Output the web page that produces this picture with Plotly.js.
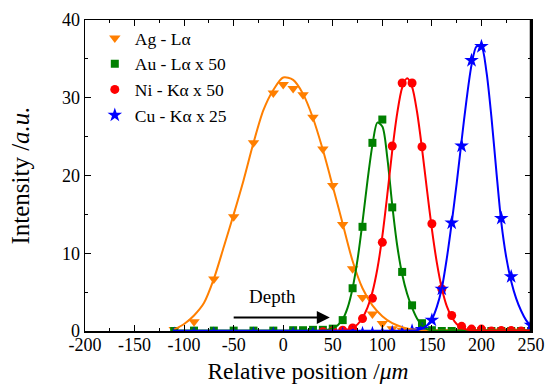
<!DOCTYPE html>
<html>
<head>
<meta charset="utf-8">
<script src="https://cdn.plot.ly/plotly-3.0.1.min.js"></script>
<style>html,body{margin:0;padding:0;background:#fff;}#chart{width:545px;height:389px;}</style>
</head>
<body>
<div id="chart"></div>
<script>
// ---- data ----
const seriesNames = ["Ag - L\u03b1", "Au - L\u03b1 x 50", "Ni - K\u03b1 x 50", "Cu - K\u03b1 x 25"];

// measured points
const agX = [-110,-90,-70,-50,-30,-10,0,10,20,30,40,50,60,70,80,90,100,110,120,130,140,150,160,170,180,190,200,210,220,230,240,250];
const agY = [0.2,1.2,6.7,14.7,24.2,30.6,31.7,31.2,30.4,27.5,23.4,18.7,13.7,8.0,4.3,2.2,0.96,0.3,0.1,0.0,-0.1,-0.1,-0.1,-0.1,-0.1,-0.1,-0.1,-0.1,0.0,0.0,-0.1,-0.1];

const auX = [-110,-90,-70,-50,-30,-10,10,20,30,40,50,60,70,80,90,100,110,120,130,140,150,160,170,180,190,200,210,220,230,240,250];
const auY = [0.0,0.05,0.05,0.05,0.05,0.05,0.1,0.1,0.15,0.15,0.3,1.4,5.5,13.4,24.2,27.2,15.9,7.6,3.3,1.0,0.1,0.0,0.0,0.0,0.0,0.0,0.0,0.0,0.0,0.0,0.0];

const niX = [40,50,60,70,80,90,100,110,120,130,140,150,160,170,180,190,200,210,220,230,240,250];
const niY = [-0.1,0.0,0.1,0.4,1.6,4.2,11.4,23.8,31.9,31.9,23.7,13.8,5.4,2.0,0.6,0.25,0.25,0.0,0.05,0.05,0.0,0.0];

const cuX = [-110,-90,-70,-50,-30,-10,10,30,50,60,70,80,90,100,110,120,130,140,150,160,170,180,190,200,220,230,250];
const cuY = [-0.4,-0.4,-0.4,-0.4,-0.4,-0.4,-0.4,-0.4,-0.4,-0.4,-0.3,-0.3,-0.3,-0.3,-0.2,-0.2,0.0,0.2,1.4,5.4,13.9,23.8,34.8,36.6,14.5,7.0,0.75];

// fitted curves
const agFitX = [-110,-100,-90,-80,-70,-60,-50,-40,-30,-20,-10,0,10,20,30,40,50,60,70,80,90,100,110,120,130,140,150,170,190,210,230,250];
const agFitY = [0.2,0.9,2.0,3.6,6.7,10.8,15.0,19.4,24.2,28.4,31.0,32.6,32.3,30.5,27.4,23.3,18.6,13.8,9.0,5.5,3.3,1.9,1.0,0.5,0.2,0.05,0.02,0.02,0.02,0.02,0.02,0.02];

const auFitX = [-110,-90,-70,-50,-30,-10,10,30,40,45,50,55,60,65,70,75,80,85,90,95,100,105,110,115,120,125,130,135,140,145,150,170,190,210,230,250];
const auFitY = [0.05,0.05,0.05,0.05,0.05,0.05,0.05,0.05,0.05,0.15,0.35,0.75,1.5,3.0,5.5,9.2,14.0,19.3,23.9,26.8,26.3,22.3,16.2,11.0,7.3,4.8,3.0,1.6,0.7,0.25,0.08,0.05,0.05,0.05,0.05,0.05];

const niFitX = [40,50,60,65,70,75,80,85,90,95,100,105,110,115,120,125,130,135,140,145,150,155,160,165,170,175,180,185,190,200,220,250];
const niFitY = [0.02,0.05,0.1,0.2,0.4,0.85,1.7,3.0,5.0,8.0,12.2,17.5,23.2,28.0,31.3,32.5,31.4,28.2,23.5,18.2,13.1,8.8,5.5,3.2,1.8,0.9,0.45,0.2,0.1,0.05,0.05,0.05];

const cuFitX = [-110,-50,0,50,100,120,125,130,135,140,145,150,155,160,165,170,175,180,185,190,195,200,205,210,215,220,225,230,235,240,245,250];
const cuFitY = [0.02,0.02,0.02,0.02,0.02,0.02,0.03,0.05,0.1,0.3,0.7,1.5,3.1,5.5,9.3,13.9,19.0,24.5,29.8,34.2,36.6,36.6,33.4,27.6,20.6,14.0,9.5,6.4,4.2,2.6,1.4,0.6];

const xTickVals = [-200,-150,-100,-50,0,50,100,150,200,250];
const xTickText = ["-200","-150","-100","-50","0","50","100","150","200","250"];
const yTickVals = [0,10,20,30,40];
const yTickText = ["0","10","20","30","40"];

// ---- styles ----
const colors = ["#ff7f00", "#008000", "#ff0000", "#0000ff"];
const symbols = ["triangle-down", "square", "circle", "star"];
const sizes = [10, 8, 9, 11];
const serif = "Liberation Serif";

const pts = [[agX, agY], [auX, auY], [niX, niY], [cuX, cuY]];
const fits = [[agFitX, agFitY], [auFitX, auFitY], [niFitX, niFitY], [cuFitX, cuFitY]];

const traces = [];
for (let i = 0; i < 4; i++) {
  traces.push({
    x: pts[i][0], y: pts[i][1], type: "scatter", mode: "markers",
    name: seriesNames[i],
    marker: {color: colors[i], symbol: symbols[i], size: sizes[i], line: {width: 0}}
  });
}
for (let i = 0; i < 4; i++) {
  traces.push({
    x: fits[i][0], y: fits[i][1], type: "scatter", mode: "lines",
    line: {color: colors[i], width: 2, shape: "spline", smoothing: 0.8},
    showlegend: false, hoverinfo: "skip"
  });
}

const layout = {
  width: 545, height: 389,
  margin: {l: 85, r: 14, t: 20, b: 58, pad: 0},
  paper_bgcolor: "#fff", plot_bgcolor: "#fff",
  font: {family: serif, color: "#000", size: 18},
  showlegend: true,
  legend: {x: 0.022, y: 1.0, xanchor: "left", yanchor: "top", bgcolor: "rgba(0,0,0,0)",
           font: {family: serif, size: 17.5, color: "#000"}, tracegroupgap: 0},
  xaxis: {
    range: [-200, 250], tickvals: xTickVals, ticktext: xTickText,
    ticks: "inside", ticklen: 6, tickwidth: 1, tickcolor: "#000",
    minor: {dtick: 25, tick0: 0, ticks: "inside", ticklen: 3, tickcolor: "#000"},
    showline: true, linecolor: "#000", linewidth: 1.5, mirror: "ticks",
    showgrid: false, zeroline: false, ticklabelstandoff: -3,
    tickfont: {family: serif, size: 18, color: "#000"},
    title: {text: "Relative position /<i>\u03bcm</i>", font: {family: serif, size: 23.5, color: "#000"}, standoff: 8}
  },
  yaxis: {
    range: [0, 40], tickvals: yTickVals, ticktext: yTickText,
    ticks: "inside", ticklen: 6, tickwidth: 1, tickcolor: "#000",
    minor: {dtick: 5, tick0: 0, ticks: "inside", ticklen: 3, tickcolor: "#000"},
    showline: true, linecolor: "#000", linewidth: 1.5, mirror: "ticks",
    showgrid: false, zeroline: false,
    tickfont: {family: serif, size: 18, color: "#000"},
    title: {text: "Intensity /<i>a.u.</i>", font: {family: serif, size: 25, color: "#000"}, standoff: 25}
  },
  shapes: [
    {type: "line", xref: "paper", yref: "paper", x0: 1, x1: 1, y0: 0, y1: 1,
     line: {color: "#000", width: 2.5}}
  ],
  annotations: [
    {x: -11, y: 4.5, xref: "x", yref: "y", text: "Depth", showarrow: false,
     font: {family: serif, size: 19, color: "#000"}},
    {x: 47, y: 1.73, xref: "x", yref: "y", ax: -51.5, ay: 1.73, axref: "x", ayref: "y",
     text: "", showarrow: true, arrowhead: 2, arrowsize: 1.3, arrowwidth: 2, arrowcolor: "#000"}
  ]
};

Plotly.newPlot("chart", traces, layout, {displayModeBar: false, staticPlot: true});
</script>
</body>
</html>
